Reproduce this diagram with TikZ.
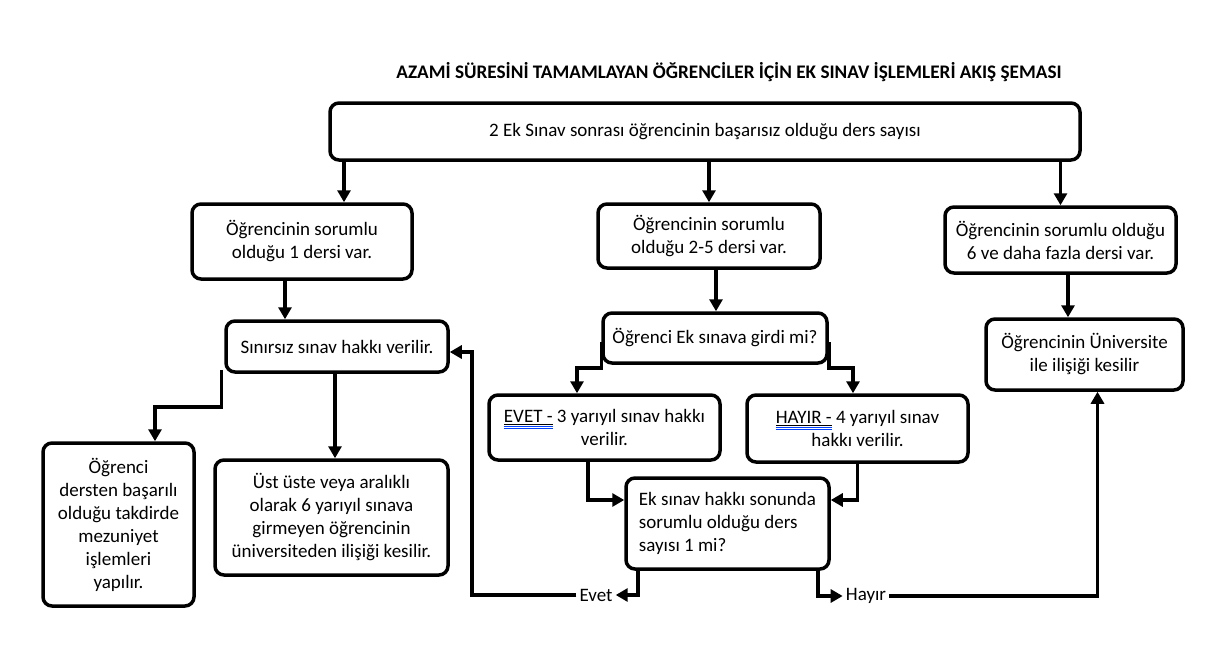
\documentclass[tikz,border=0pt]{standalone}
\usepackage{fontspec}
\setmainfont{Carlito}
\usetikzlibrary{arrows.meta}

% underline plus the blue spell-check marks
\newcommand{\flagged}[1]{\setbox0=\hbox{#1}%
  \rlap{\rule[-2.4pt]{\wd0}{0.7pt}}%
  \rlap{\color{blue!75!cyan}\rule[-4.4pt]{\wd0}{0.6pt}}%
  \rlap{\color{blue!75!cyan}\rule[-6.2pt]{\wd0}{0.6pt}}\box0}

\begin{document}
\begin{tikzpicture}[x=1pt, y=-1pt, line width=3.5pt, >={Triangle[width=13pt,length=12pt]},
  box/.style={draw, rounded corners=9pt, align=center, inner sep=0pt, font=\fontsize{19}{23}\selectfont},
  lbl/.style={inner sep=1.5pt, font=\fontsize{19}{22}\selectfont}]
\useasboundingbox (0,0) rectangle (1223,669);
\node[font=\bfseries\fontsize{19.2}{22}\selectfont] (title) at (729,72) {AZAMİ SÜRESİNİ TAMAMLAYAN ÖĞRENCİLER İÇİN EK SINAV İŞLEMLERİ AKIŞ ŞEMASI};
\node[box, minimum width=750pt, minimum height=57pt] (total) at (705,131.5) {2 Ek Sınav sonrası öğrencinin başarısız olduğu ders sayısı};
\node[box, minimum width=220pt, minimum height=75pt] (one) at (302,241.5) {Öğrencinin sorumlu\\olduğu 1 dersi var.};
\node[box, minimum width=222pt, minimum height=64pt] (few) at (709,236) {Öğrencinin sorumlu\\olduğu 2-5 dersi var.};
\node[box, minimum width=231pt, minimum height=66pt] (many) at (1060.5,240) {Öğrencinin sorumlu olduğu\\6 ve daha fazla dersi var.};
\node[box, minimum width=222pt, minimum height=51pt] (unlim) at (337,346.5) {Sınırsız sınav hakkı verilir.};
\node[box, minimum width=224pt, minimum height=50pt] (took) at (715,338) {Öğrenci Ek sınava girdi mi?};
\node[box, minimum width=197pt, minimum height=71pt] (expel) at (1084.5,354.5) {Öğrencinin Üniversite\\ile ilişiği kesilir};
\node[box, minimum width=231pt, minimum height=65pt] (yes) at (604.5,427.5) {\flagged{EVET -}\ 3 yarıyıl sınav hakkı\\verilir.};
\node[box, minimum width=221pt, minimum height=67pt] (no) at (857.5,428.5) {\flagged{HAYIR -}\ 4 yarıyıl sınav\\hakkı verilir.};
\node[box, align=left, minimum width=203pt, minimum height=91pt] (final) at (727.5,523.5) {Ek sınav hakkı sonunda\\sorumlu olduğu ders\\sayısı 1 mi?};
\node[box, minimum width=151pt, minimum height=163pt] (grad) at (118.5,524.5) {Öğrenci\\dersten başarılı\\olduğu takdirde\\mezuniyet\\işlemleri\\yapılır.};
\node[box, minimum width=233pt, minimum height=115pt] (repeat) at (331.5,517.5) {Üst üste veya aralıklı\\olarak 6 yarıyıl sınava\\girmeyen öğrencinin\\üniversiteden ilişiği kesilir.};
\node[lbl] (evet) at (596,595) {Evet};
\node[lbl] (hayir) at (866,596) {Hayır};
\coordinate (backturn) at (472,0);
\draw[->] ([xshift=42pt]one.north |- total.south) -- ([xshift=42pt]one.north);
\draw[->] (total.south -| few.north) -- (few.north);
\draw[->] (total.south -| many.north) -- (many.north);
\draw[->] ([xshift=-17pt]one.south) -- ([xshift=-17pt]one.south |- unlim.north);
\draw[->] ([xshift=7pt]few.south) -- ([xshift=7pt]few.south |- took.north);
\draw[->] ([xshift=7.5pt]many.south) -- ([xshift=7.5pt]many.south |- expel.north);
\draw[->] ([xshift=-3pt,yshift=4pt]unlim.south west) -- ++(0,37) -| ([xshift=36.5pt]grad.north);
\draw[->] ([xshift=-2pt]unlim.south) -- ([xshift=-2pt]unlim.south |- repeat.north);
\draw[->] ([yshift=-4pt]took.west) -- ++(0,26) -| ([xshift=-27.5pt]yes.north);
\draw[->] ([yshift=-4pt]took.east) -- ++(0,26) -| ([xshift=-4.5pt]no.north);
\draw[->] ([xshift=-16.5pt]yes.south) |- ([yshift=23.5pt]final.west);
\draw[->] (no.south) |- ([yshift=23.5pt]final.east);
\draw[->] ([xshift=-89.5pt]final.south) |- (evet.east);
\draw[->] ([xshift=90.5pt]final.south) |- (hayir.west);
\draw[->] (evet.west) -- (evet.west -| backturn) |- ([yshift=-5.5pt]unlim.east);
\draw[->] (hayir.east) -| ([xshift=13pt]expel.south);
\end{tikzpicture}
\end{document}
